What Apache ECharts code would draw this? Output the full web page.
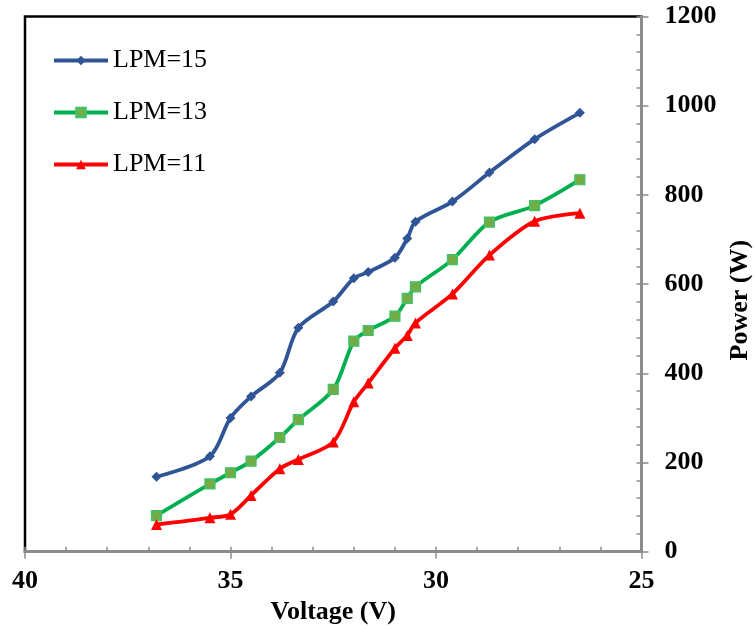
<!DOCTYPE html>
<html>
<head>
<meta charset="utf-8">
<script src="https://cdn.jsdelivr.net/npm/echarts@6/dist/echarts.min.js"></script>
<style>
html,body{margin:0;padding:0;background:#fff;}
#chart{width:756px;height:626px;}
</style>
</head>
<body>
<div id="chart"></div>
<script>
var voltage = [36.8, 35.5, 35.0, 34.5, 33.8, 33.35, 32.5, 32.0, 31.65, 31.0, 30.7, 30.5, 29.6, 28.7, 27.6, 26.5];
var lpm15 = [168, 214, 300, 348, 401, 502, 561, 613, 627, 659, 702, 740, 785, 850, 925, 984];
var lpm13 = [81, 152, 177, 203, 256, 296, 364, 472, 496, 528, 568, 594, 655, 739, 776, 834];
var lpm11 = [61, 76, 84, 126, 186, 207, 246, 336, 378, 456, 485, 513, 578, 665, 741, 759];
var seriesNames = ['LPM=15', 'LPM=13', 'LPM=11'];
var xTicks = {min: 25, max: 40, interval: 5};
var yTicks = {min: 0, max: 1200, interval: 200};

function pairs(ys){ return voltage.map(function(v,i){ return [v, ys[i]]; }); }

var FONT = '"Liberation Serif", "Times New Roman", serif';
var GRAY = '#8c8c8c';

var chart = echarts.init(document.getElementById('chart'), null, {renderer:'canvas'});
var option = {
  animation: false,
  backgroundColor: '#fff',
  grid: {left: 25, right: 114.5, top: 16.5, bottom: 74.3, outerBoundsMode: 'none', containLabel: false,
         show: true, borderColor: '#000', borderWidth: 2.5, backgroundColor: 'transparent'},
  legend: {
    orient: 'vertical', left: 52, top: 47, padding: 0, itemWidth: 54, itemHeight: 12, itemGap: 25,
    data: seriesNames,
    lineStyle: {width: 4},
    textStyle: {fontFamily: FONT, fontSize: 26, color: '#000', lineHeight: 27}
  },
  xAxis: [{
    type: 'value', min: xTicks.min, max: xTicks.max, interval: xTicks.interval, inverse: true, position: 'bottom',
    name: 'Voltage (V)', nameLocation: 'middle', nameGap: 38,
    nameTextStyle: {fontFamily: FONT, fontSize: 26, fontWeight: 'bold', color: '#000'},
    axisLine: {show: true, lineStyle: {color: GRAY, width: 3}},
    axisTick: {show: true, inside: false, length: 7, lineStyle: {color: GRAY, width: 1.5}},
    axisLabel: {fontFamily: FONT, fontSize: 26, fontWeight: 'bold', color: '#000', margin: 17},
    splitLine: {show: false}
  },{
    type: 'value', min: xTicks.min, max: xTicks.max, interval: xTicks.interval, inverse: true, position: 'bottom',
    axisLine: {show: false},
    axisTick: {show: true, inside: true, length: 5, lineStyle: {color: GRAY, width: 1.5}},
    minorTick: {show: true, splitNumber: 5, length: 5, lineStyle: {color: GRAY, width: 1.5}},
    axisLabel: {show: false}, splitLine: {show: false}
  }],
  yAxis: [{
    type: 'value', min: yTicks.min, max: yTicks.max, interval: yTicks.interval, position: 'right',
    name: 'Power (W)', nameLocation: 'middle', nameGap: 82, nameRotate: 90,
    nameTextStyle: {fontFamily: FONT, fontSize: 26, fontWeight: 'bold', color: '#000', padding: [0, 32, 0, 0]},
    axisLine: {show: true, lineStyle: {color: GRAY, width: 3}},
    axisTick: {show: true, inside: false, length: 7, lineStyle: {color: GRAY, width: 1.5}},
    axisLabel: {fontFamily: FONT, fontSize: 26, fontWeight: 'bold', color: '#000', margin: 23,
                formatter: function(v){ return String(v); }},
    splitLine: {show: false}
  },{
    type: 'value', min: yTicks.min, max: yTicks.max, interval: yTicks.interval, position: 'right',
    axisLine: {show: false},
    axisTick: {show: true, inside: true, length: 5, lineStyle: {color: GRAY, width: 1.5}},
    minorTick: {show: true, splitNumber: 5, length: 5, lineStyle: {color: GRAY, width: 1.5}},
    axisLabel: {show: false}, splitLine: {show: false}
  }],
  series: [{
    name: seriesNames[0], type: 'line', smooth: 0.3, data: pairs(lpm15),
    symbol: 'diamond', symbolSize: 10,
    lineStyle: {color: '#2f5597', width: 3.8},
    itemStyle: {color: '#2f5597'}
  },{
    name: seriesNames[1], type: 'line', smooth: 0.3, data: pairs(lpm13),
    symbol: 'rect', symbolSize: 10,
    lineStyle: {color: '#00b050', width: 3.8},
    itemStyle: {color: '#70ad47', borderColor: '#3cc46a', borderWidth: 1.2}
  },{
    name: seriesNames[2], type: 'line', smooth: 0.3, data: pairs(lpm11),
    symbol: 'triangle', symbolSize: 11,
    lineStyle: {color: '#ff0000', width: 3.8},
    itemStyle: {color: '#ff0000'}
  }]
};
chart.setOption(option);
</script>
</body>
</html>
